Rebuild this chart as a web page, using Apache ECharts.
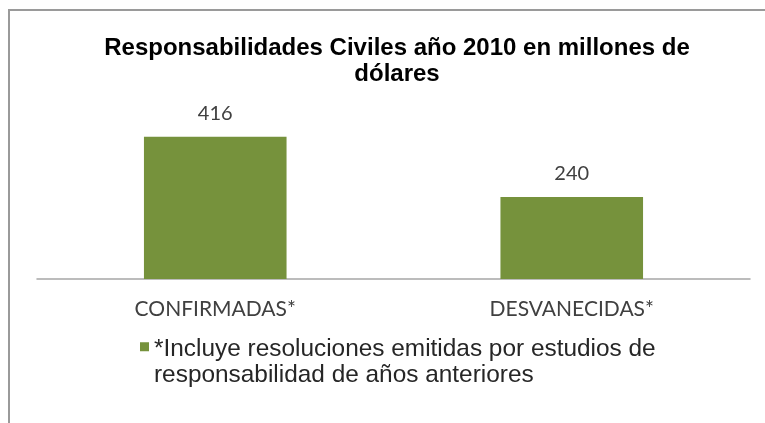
<!DOCTYPE html>
<html>
<head>
<meta charset="utf-8">
<script src="https://cdn.jsdelivr.net/npm/echarts@6/dist/echarts.min.js"></script>
<style>
  html, body { margin: 0; padding: 0; background: #fff; }
  #chart { width: 765px; height: 423px; }
</style>
</head>
<body>
<div id="chart"></div>
<script>
// Civil liabilities 2010 (millions of dollars)
const chartTitle = 'Responsabilidades Civiles año 2010 en millones de\ndólares';
const categories = ['CONFIRMADAS*', 'DESVANECIDAS*'];
const values = [416, 240];
const seriesName = '*Incluye resoluciones emitidas por estudios de\nresponsabilidad de años anteriores';

// legend swatch sits beside the first text line: square near the top of a tall box
const swatchIcon = 'path://M0 13H10V23H0Z M0 57H0.01V57.01H0Z';

const chart = echarts.init(document.getElementById('chart'), null, { renderer: 'canvas' });

chart.setOption({
  animation: false,
  backgroundColor: '#ffffff',
  title: {
    text: chartTitle,
    left: 392,
    top: 30,
    textAlign: 'center',
    textStyle: {
      fontFamily: 'Liberation Sans, Arial, sans-serif',
      fontWeight: 'bold',
      fontSize: 24,
      lineHeight: 26,
      color: '#000000'
    }
  },
  legend: {
    data: [{ name: seriesName, icon: swatchIcon }],
    left: 135,
    top: 331,
    itemWidth: 9,
    itemHeight: 52,
    itemGap: 4,
    textStyle: {
      fontFamily: 'Liberation Sans, Arial, sans-serif',
      fontSize: 24.4,
      lineHeight: 26,
      color: '#262626'
    }
  },
  grid: {
    left: 37,
    right: 15,
    top: 108,
    bottom: 144,
    containLabel: false
  },
  xAxis: {
    type: 'category',
    data: categories,
    axisLine: { show: true, lineStyle: { color: '#a6a6a6', width: 1.5 } },
    axisTick: { show: false },
    axisLabel: {
      margin: 20,
      fontFamily: 'Lato, Noto Sans, sans-serif',
      fontSize: 21,
      color: '#404040'
    }
  },
  yAxis: {
    type: 'value',
    min: 0,
    max: 500,
    show: false,
    splitLine: { show: false }
  },
  series: [{
    name: seriesName,
    type: 'bar',
    data: values,
    barWidth: '40%',
    itemStyle: { color: '#76923c' },
    label: {
      show: true,
      position: 'top',
      distance: 13,
      fontFamily: 'Lato, Noto Sans, sans-serif',
      fontSize: 20,
      color: '#404040'
    }
  }],
  graphic: [
    {
      type: 'polyline',
      shape: { points: [[9, 423], [9, 10], [765, 10]] },
      style: { stroke: '#9a9a9a', lineWidth: 2, fill: null },
      silent: true
    }
  ]
});
</script>
</body>
</html>
